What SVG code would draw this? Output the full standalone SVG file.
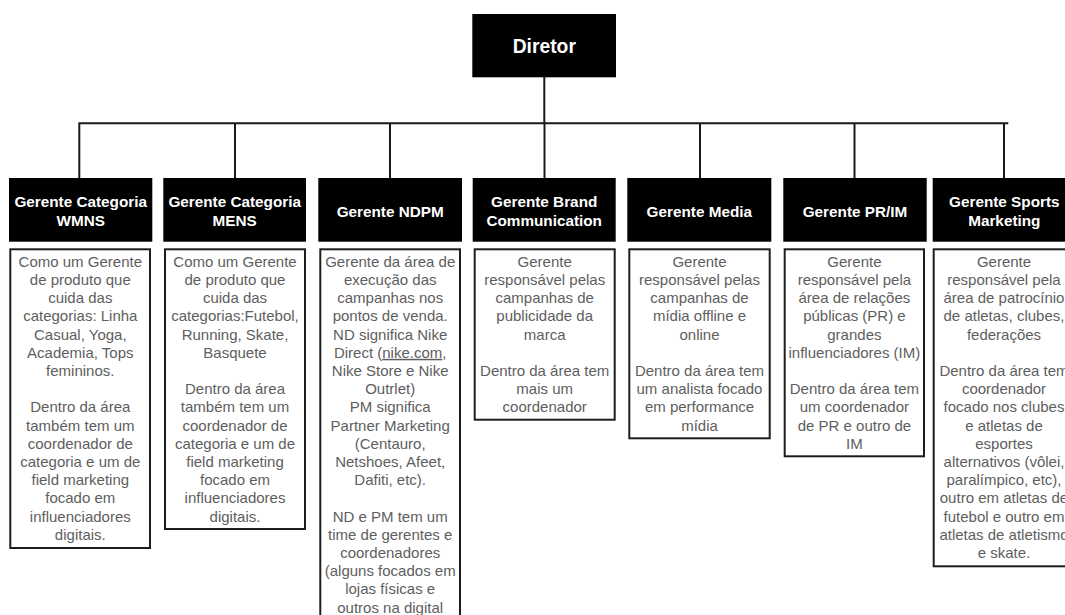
<svg xmlns="http://www.w3.org/2000/svg" width="1065" height="615" viewBox="0 0 1065 615">
<style>
.hdr{fill:#000}
.hdr-t{font-family:"Liberation Sans",Arial,sans-serif;font-weight:bold;font-size:15.3px;fill:#fff;text-anchor:middle}
.dir-t{font-family:"Liberation Sans",Arial,sans-serif;font-weight:bold;font-size:19.3px;fill:#fff;text-anchor:middle}
.desc{fill:#fff;stroke:#1e1e1e;stroke-width:2}
.desc-t{font-family:"Liberation Sans",Arial,sans-serif;font-size:15px;fill:#5e5e5e;text-anchor:middle}
.conn{stroke:#1a1a1a;stroke-width:2;fill:none}
</style>
<rect width="1065" height="615" fill="#fff"/>
<g id="connectors">
<path class="conn" d="M544.3,77 V123.3 M78.3,123.3 H1008.3 M79.3,123.3 V178 M235,123.3 V178 M390,123.3 V178 M544.5,123.3 V178 M700,123.3 V178 M854.5,123.3 V178 M1004,123.3 V178"/>
</g>
<g id="diretor">
<rect class="hdr" x="472.3" y="14" width="143.7" height="63.3"/>
<text class="dir-t" x="544.3" y="52.5">Diretor</text>
</g>
<g id="gerente-wmns">
<rect class="hdr" x="9" y="178" width="143.3" height="63.7"/>
<text class="hdr-t" x="80.7" y="207.2">Gerente Categoria<tspan x="80.7" dy="18.3">WMNS</tspan></text>
<rect class="desc" x="10.3" y="249.3" width="139.7" height="298.7"/>
<text class="desc-t" x="80.3" y="266.8">Como um Gerente<tspan x="80.3" dy="18.2">de produto que</tspan><tspan x="80.3" dy="18.2">cuida das</tspan><tspan x="80.3" dy="18.2">categorias: Linha</tspan><tspan x="80.3" dy="18.2">Casual, Yoga,</tspan><tspan x="80.3" dy="18.2">Academia, Tops</tspan><tspan x="80.3" dy="18.2">femininos.</tspan><tspan x="80.3" dy="36.4">Dentro da área</tspan><tspan x="80.3" dy="18.2">também tem um</tspan><tspan x="80.3" dy="18.2">coordenador de</tspan><tspan x="80.3" dy="18.2">categoria e um de</tspan><tspan x="80.3" dy="18.2">field marketing</tspan><tspan x="80.3" dy="18.2">focado em</tspan><tspan x="80.3" dy="18.2">influenciadores</tspan><tspan x="80.3" dy="18.2">digitais.</tspan></text>
</g>
<g id="gerente-mens">
<rect class="hdr" x="163.3" y="178" width="142.7" height="63.7"/>
<text class="hdr-t" x="234.7" y="207.2">Gerente Categoria<tspan x="234.7" dy="18.3">MENS</tspan></text>
<rect class="desc" x="165" y="249.3" width="140" height="279.7"/>
<text class="desc-t" x="235" y="266.8">Como um Gerente<tspan x="235" dy="18.2">de produto que</tspan><tspan x="235" dy="18.2">cuida das</tspan><tspan x="235" dy="18.2">categorias:Futebol,</tspan><tspan x="235" dy="18.2">Running, Skate,</tspan><tspan x="235" dy="18.2">Basquete</tspan><tspan x="235" dy="36.4">Dentro da área</tspan><tspan x="235" dy="18.2">também tem um</tspan><tspan x="235" dy="18.2">coordenador de</tspan><tspan x="235" dy="18.2">categoria e um de</tspan><tspan x="235" dy="18.2">field marketing</tspan><tspan x="235" dy="18.2">focado em</tspan><tspan x="235" dy="18.2">influenciadores</tspan><tspan x="235" dy="18.2">digitais.</tspan></text>
</g>
<g id="gerente-ndpm">
<rect class="hdr" x="318.3" y="178" width="143.7" height="63.7"/>
<text class="hdr-t" x="390.2" y="217">Gerente NDPM</text>
<rect class="desc" x="320.3" y="249.3" width="139.7" height="380"/>
<text class="desc-t" x="390.2" y="266.8">Gerente da área de<tspan x="390.2" dy="18.2">execução das</tspan><tspan x="390.2" dy="18.2">campanhas nos</tspan><tspan x="390.2" dy="18.2">pontos de venda.</tspan><tspan x="390.2" dy="18.2">ND significa Nike</tspan><tspan x="390.2" dy="18.2">Direct (<tspan text-decoration="underline">nike.com</tspan>,</tspan><tspan x="390.2" dy="18.2">Nike Store e Nike</tspan><tspan x="390.2" dy="18.2">Outrlet)</tspan><tspan x="390.2" dy="18.2">PM significa</tspan><tspan x="390.2" dy="18.2">Partner Marketing</tspan><tspan x="390.2" dy="18.2">(Centauro,</tspan><tspan x="390.2" dy="18.2">Netshoes, Afeet,</tspan><tspan x="390.2" dy="18.2">Dafiti, etc).</tspan><tspan x="390.2" dy="36.4">ND e PM tem um</tspan><tspan x="390.2" dy="18.2">time de gerentes e</tspan><tspan x="390.2" dy="18.2">coordenadores</tspan><tspan x="390.2" dy="18.2">(alguns focados em</tspan><tspan x="390.2" dy="18.2">lojas físicas e</tspan><tspan x="390.2" dy="18.2">outros na digital</tspan></text>
</g>
<g id="gerente-brand">
<rect class="hdr" x="472.7" y="178" width="143" height="63.7"/>
<text class="hdr-t" x="544.2" y="207.2">Gerente Brand<tspan x="544.2" dy="18.3">Communication</tspan></text>
<rect class="desc" x="474.7" y="249.3" width="140" height="170.4"/>
<text class="desc-t" x="544.7" y="266.8">Gerente<tspan x="544.7" dy="18.2">responsável pelas</tspan><tspan x="544.7" dy="18.2">campanhas de</tspan><tspan x="544.7" dy="18.2">publicidade da</tspan><tspan x="544.7" dy="18.2">marca</tspan><tspan x="544.7" dy="36.4">Dentro da área tem</tspan><tspan x="544.7" dy="18.2">mais um</tspan><tspan x="544.7" dy="18.2">coordenador</tspan></text>
</g>
<g id="gerente-media">
<rect class="hdr" x="627.3" y="178" width="144" height="63.7"/>
<text class="hdr-t" x="699.3" y="217">Gerente Media</text>
<rect class="desc" x="629.3" y="249.3" width="140.4" height="189"/>
<text class="desc-t" x="699.5" y="266.8">Gerente<tspan x="699.5" dy="18.2">responsável pelas</tspan><tspan x="699.5" dy="18.2">campanhas de</tspan><tspan x="699.5" dy="18.2">mídia offline e</tspan><tspan x="699.5" dy="18.2">online</tspan><tspan x="699.5" dy="36.4">Dentro da área tem</tspan><tspan x="699.5" dy="18.2">um analista focado</tspan><tspan x="699.5" dy="18.2">em performance</tspan><tspan x="699.5" dy="18.2">mídia</tspan></text>
</g>
<g id="gerente-prim">
<rect class="hdr" x="783.3" y="178" width="143.4" height="63.7"/>
<text class="hdr-t" x="855" y="217">Gerente PR/IM</text>
<rect class="desc" x="784.7" y="249.3" width="139.3" height="207"/>
<text class="desc-t" x="854.4" y="266.8">Gerente<tspan x="854.4" dy="18.2">responsável pela</tspan><tspan x="854.4" dy="18.2">área de relações</tspan><tspan x="854.4" dy="18.2">públicas (PR) e</tspan><tspan x="854.4" dy="18.2">grandes</tspan><tspan x="854.4" dy="18.2">influenciadores (IM)</tspan><tspan x="854.4" dy="36.4">Dentro da área tem</tspan><tspan x="854.4" dy="18.2">um coordenador</tspan><tspan x="854.4" dy="18.2">de PR e outro de</tspan><tspan x="854.4" dy="18.2">IM</tspan></text>
</g>
<g id="gerente-sports">
<rect class="hdr" x="932.7" y="178" width="143.3" height="63.7"/>
<text class="hdr-t" x="1004.3" y="207.2">Gerente Sports<tspan x="1004.3" dy="18.3">Marketing</tspan></text>
<rect class="desc" x="933.7" y="249.3" width="140" height="317"/>
<text class="desc-t" x="1004" y="266.8">Gerente<tspan x="1004" dy="18.2">responsável pela</tspan><tspan x="1004" dy="18.2">área de patrocínio</tspan><tspan x="1004" dy="18.2">de atletas, clubes,</tspan><tspan x="1004" dy="18.2">federações</tspan><tspan x="1004" dy="36.4">Dentro da área tem</tspan><tspan x="1004" dy="18.2">coordenador</tspan><tspan x="1004" dy="18.2">focado nos clubes</tspan><tspan x="1004" dy="18.2">e atletas de</tspan><tspan x="1004" dy="18.2">esportes</tspan><tspan x="1004" dy="18.2">alternativos (vôlei,</tspan><tspan x="1004" dy="18.2">paralímpico, etc),</tspan><tspan x="1004" dy="18.2">outro em atletas de</tspan><tspan x="1004" dy="18.2">futebol e outro em</tspan><tspan x="1004" dy="18.2">atletas de atletismo</tspan><tspan x="1004" dy="18.2">e skate.</tspan></text>
</g>
</svg>
